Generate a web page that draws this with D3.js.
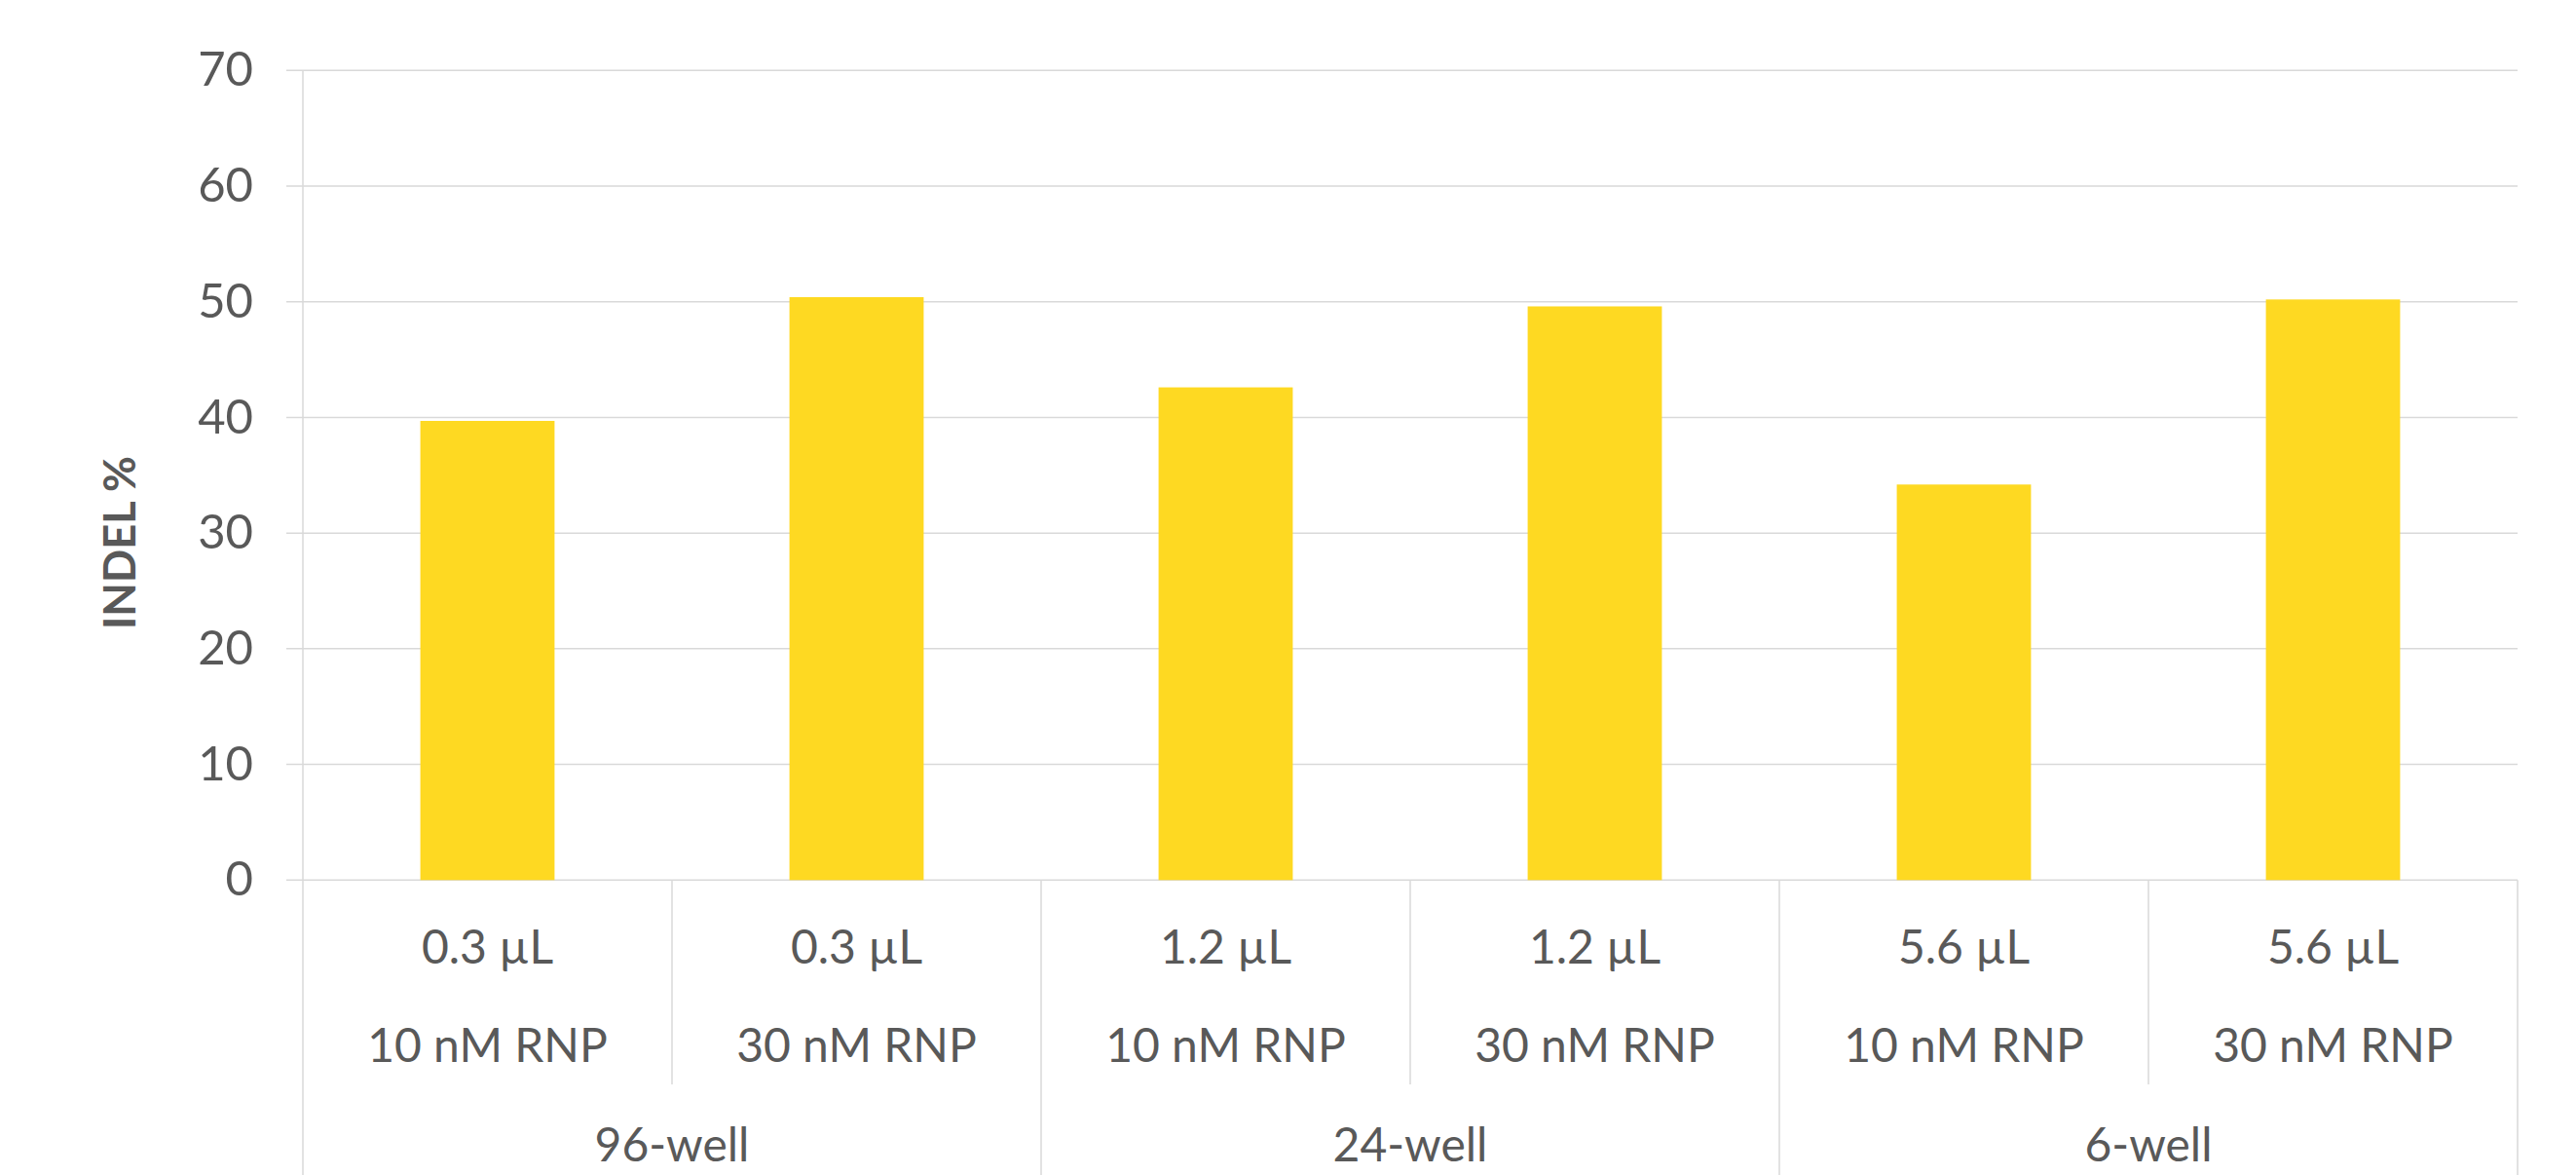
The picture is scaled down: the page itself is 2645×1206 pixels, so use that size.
<!DOCTYPE html>
<html>
<head>
<meta charset="utf-8">
<script src="https://cdn.jsdelivr.net/npm/d3@7"></script>
<style>
  html, body { margin: 0; padding: 0; background: #ffffff; }
  svg { display: block; }
  text { font-family: Lato, "Open Sans", sans-serif; fill: #595959; }
</style>
</head>
<body>
<svg id="chart" width="2645" height="1206"></svg>
<script>
// INDEL % by transfection volume, RNP dose and plate format
const volumes   = ["0.3 µL", "0.3 µL", "1.2 µL", "1.2 µL", "5.6 µL", "5.6 µL"];
const rnpDoses  = ["10 nM RNP", "30 nM RNP", "10 nM RNP", "30 nM RNP", "10 nM RNP", "30 nM RNP"];
const plates    = ["96-well", "24-well", "6-well"];
const indelPct  = [39.7, 50.4, 42.6, 49.6, 34.2, 50.2];
const yTicks    = [0, 10, 20, 30, 40, 50, 60, 70];

const W = 2645, H = 1206;
const plotLeft = 311, plotRight = 2585, plotTop = 72.3, plotBottom = 903.3;
const gridColor = "#D9D9D9";
const barColor = "#FED922";

const svg = d3.select("#chart");

const y = d3.scaleLinear().domain([0, 70]).range([plotBottom, plotTop]);
const x = d3.scaleBand()
  .domain(d3.range(indelPct.length))
  .range([plotLeft, plotRight])
  .padding(0);
const barW = x.bandwidth() / 2.75;   // 175% gap width

// horizontal gridlines (with short outside ticks on the value axis)
svg.append("g").selectAll("line")
  .data(yTicks)
  .join("line")
  .attr("x1", plotLeft - 17).attr("x2", plotRight)
  .attr("y1", d => y(d)).attr("y2", d => y(d))
  .attr("stroke", gridColor).attr("stroke-width", 1.5);

// value axis line
svg.append("line")
  .attr("x1", plotLeft).attr("x2", plotLeft)
  .attr("y1", y(70)).attr("y2", plotBottom)
  .attr("stroke", gridColor).attr("stroke-width", 1.5);

// value axis labels
const yAxis = d3.axisLeft(y).tickValues(yTicks).tickSize(0).tickPadding(0);
const gy = svg.append("g")
  .attr("transform", `translate(${260},0)`)
  .call(yAxis);
gy.select(".domain").remove();
gy.selectAll("text")
  .attr("font-size", 49)
  .attr("fill", "#595959")
  .style("font-family", "Lato, 'Open Sans', sans-serif");

// bars
svg.append("g").selectAll("rect")
  .data(indelPct)
  .join("rect")
  .attr("x", (d, i) => x(i) + x.bandwidth() / 2 - barW / 2)
  .attr("width", barW)
  .attr("y", d => y(d))
  .attr("height", d => y(0) - y(d))
  .attr("fill", barColor);

// category axis: separators between conditions and between plate groups
const cat = svg.append("g");
const innerBottom = 1113;
d3.range(indelPct.length + 1).forEach(i => {
  const xp = i < indelPct.length ? x(i) : plotRight;
  const isGroupEdge = i % 2 === 0;
  cat.append("line")
    .attr("x1", xp).attr("x2", xp)
    .attr("y1", plotBottom)
    .attr("y2", isGroupEdge ? H : innerBottom)
    .attr("stroke", gridColor).attr("stroke-width", 1.5);
});

// first level labels: volume and RNP dose
cat.selectAll("text.vol")
  .data(volumes)
  .join("text")
  .attr("class", "vol")
  .attr("x", (d, i) => x(i) + x.bandwidth() / 2)
  .attr("y", 989)
  .attr("text-anchor", "middle")
  .attr("font-size", 48)
  .text(d => d);

cat.selectAll("text.rnp")
  .data(rnpDoses)
  .join("text")
  .attr("class", "rnp")
  .attr("x", (d, i) => x(i) + x.bandwidth() / 2)
  .attr("y", 1090)
  .attr("text-anchor", "middle")
  .attr("font-size", 48)
  .text(d => d);

// second level labels: plate format
cat.selectAll("text.plate")
  .data(plates)
  .join("text")
  .attr("class", "plate")
  .attr("x", (d, i) => (x(i * 2) + (i * 2 + 2 < indelPct.length ? x(i * 2 + 2) : plotRight)) / 2)
  .attr("y", 1192)
  .attr("text-anchor", "middle")
  .attr("font-size", 48)
  .text(d => d);

// value axis title
svg.append("text")
  .attr("transform", `translate(139, ${557}) rotate(-90)`)
  .attr("text-anchor", "middle")
  .attr("font-size", 45)
  .attr("font-weight", "bold")
  .text("INDEL %");
</script>
</body>
</html>
